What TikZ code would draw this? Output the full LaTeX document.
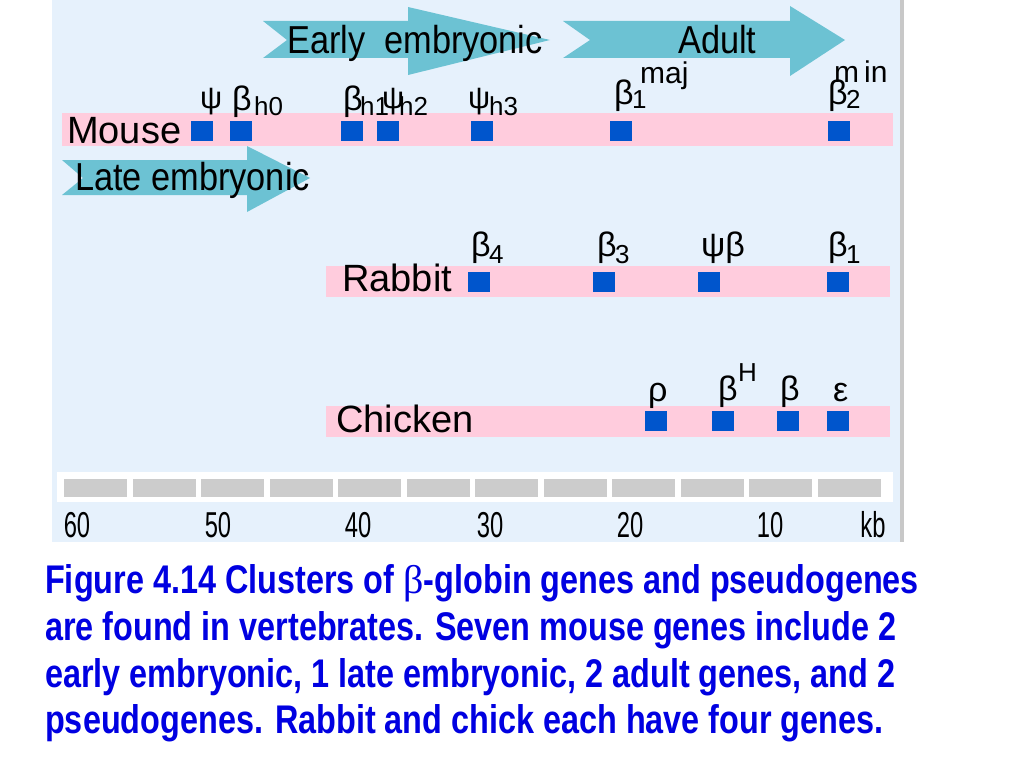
\documentclass[tikz,border=0pt]{standalone}
\usepackage{fontspec}
\setmainfont{Liberation Sans}
\newfontfamily\labf{Liberation Sans}
\newfontfamily\arrf{Liberation Sans}[FakeStretch=0.88]
\newfontfamily\numf{Liberation Sans}[FakeStretch=0.66]
\newfontfamily\capf{Liberation Sans Bold}[FakeStretch=0.81]
\newfontfamily\capbetaf{Liberation Serif}
\definecolor{panelblue}{RGB}{230,241,252}
\definecolor{barpink}{RGB}{255,204,221}
\definecolor{geneblue}{RGB}{0,85,204}
\definecolor{arrowteal}{RGB}{108,194,211}
\definecolor{seggray}{RGB}{204,204,204}
\definecolor{edgegray}{RGB}{200,200,200}
\definecolor{capblue}{RGB}{0,0,225}
\begin{document}
\begin{tikzpicture}[x=1pt,y=-1pt,
  lab/.style={anchor=base west, inner sep=0pt, font=\labf\fontsize{34}{36}\selectfont},
  psilab/.style={anchor=base west, inner sep=0pt, font=\labf\fontsize{31}{33}\selectfont},
  sublab/.style={anchor=base west, inner sep=0pt, font=\labf\fontsize{26}{28}\selectfont},
  suplab/.style={anchor=base west, inner sep=0pt, font=\labf\fontsize{30}{32}\selectfont},
  species/.style={anchor=base west, inner sep=0pt, font=\labf\fontsize{38}{40}\selectfont},
  stagelab/.style={anchor=base west, inner sep=0pt, font=\arrf\fontsize{39}{41}\selectfont},
  scalelab/.style={anchor=base, inner sep=0pt, font=\numf\fontsize{36}{38}\selectfont},
  caplab/.style={anchor=base west, inner sep=0pt, text=capblue, font=\capf\fontsize{40}{46}\selectfont},
  gene/.style={fill=geneblue, minimum width=22pt, minimum height=20pt, inner sep=0pt},
  bar/.style={fill=barpink},
  stagearrow/.style={fill=arrowteal}]
\useasboundingbox (0,0) rectangle (1024,768);
% panel
\fill[panelblue] (52,0) rectangle (900,542);
\fill[edgegray] (900,0) rectangle (904,542);
% stage arrows
\fill[stagearrow] (263,21) -- (408,21) -- (408,7) -- (550,40) -- (408,75) -- (408,58) -- (263,58) -- (287,40) -- cycle;
\fill[stagearrow] (563,21) -- (790,21) -- (790,6) -- (845,40) -- (790,76) -- (790,58) -- (563,58) -- (590,40) -- cycle;
\fill[stagearrow] (62,160) -- (247,160) -- (247,146) -- (310,178) -- (247,212) -- (247,195) -- (62,195) -- (83,178) -- cycle;
\node[stagelab] (early) at (287,53) {Early\ \ embryonic};
\node[stagelab] (adult) at (678,53) {Adult};
\node[stagelab] (late) at (75,190) {Late embryonic};
% bars
\fill[bar] (62,113) rectangle (893,146);
\fill[bar] (326,266) rectangle (890,297);
\fill[bar] (326,406) rectangle (890,437);
% species
\node[species] (mouse) at (67,143) {Mouse};
\node[species] (rabbit) at (342,291) {Rabbit};
\node[species] (chicken) at (336,432) {Chicken};
% mouse genes
\node[gene] (m1) at (202,131) {};
\node[gene] (m2) at (241,131) {};
\node[gene] (m3) at (352,131) {};
\node[gene] (m4) at (388,131) {};
\node[gene] (m5) at (482,131) {};
\node[gene] (m6) at (621,131) {};
\node[gene] (m7) at (839,131) {};
\node[psilab] (l1) at (200,108) {ψ};
\node[lab] (l2) at (232,110) {β};
\node[sublab] (l2s) at (254,115) {h0};
\node[lab] (l3) at (343,110) {β};
\node[sublab] (l3s) at (360,115) {h1};
\node[psilab] (l4) at (382,108) {ψ};
\node[sublab] (l4s) at (399,115) {h2};
\node[psilab] (l5) at (468,108) {ψ};
\node[sublab] (l5s) at (489,115) {h3};
\node[lab] (l6) at (614,104) {β};
\node[sublab] (l6s) at (632,108) {1};
\node[suplab] (l6p) at (640,83) {maj};
\node[lab] (l7) at (828,104) {β};
\node[sublab] (l7s) at (846,108) {2};
\node[suplab] (l7p) at (834,82) {m\,in};
% rabbit genes
\node[gene] (r1) at (479,281.5) {};
\node[gene] (r2) at (604,281.5) {};
\node[gene] (r3) at (709,281.5) {};
\node[gene] (r4) at (838,281.5) {};
\node[lab] (k1) at (471,256) {β};
\node[sublab] (k1s) at (489,263) {4};
\node[lab] (k2) at (597,256) {β};
\node[sublab] (k2s) at (615,263) {3};
\node[lab] (k3) at (701,256) {ψβ};
\node[lab] (k4) at (828,256) {β};
\node[sublab] (k4s) at (846,263) {1};
% chicken genes
\node[gene] (c1) at (656,420.5) {};
\node[gene] (c2) at (723,420.5) {};
\node[gene] (c3) at (788,420.5) {};
\node[gene] (c4) at (838,420.5) {};
\node[lab] (h1) at (648,401) {ρ};
\node[lab] (h2) at (718,400) {β};
\node[sublab] (h2p) at (738,381) {H};
\node[lab] (h3) at (780,400) {β};
\node[lab] (h4) at (833,401) {ε};
% scale bar
\fill[white] (57,472) rectangle (893,502);
\foreach \i in {0,...,11} \fill[seggray] ({64+68.5*\i},479) rectangle ++(63,18);
\node[scalelab] (s60) at (77,537) {60};
\node[scalelab] (s50) at (218,537) {50};
\node[scalelab] (s40) at (358,537) {40};
\node[scalelab] (s30) at (490,537) {30};
\node[scalelab] (s20) at (630,537) {20};
\node[scalelab] (s10) at (770,537) {10};
\node[scalelab] (skb) at (873,537) {kb};
% caption
\node[caplab] (cap1) at (45,593) {Figure 4.14 Clusters of {\capbetaf β}-globin genes and pseudogenes};
\node[caplab] (cap2) at (45,640) {are found in vertebrates. Seven mouse genes include 2};
\node[caplab] (cap3) at (45,687) {early embryonic, 1 late embryonic, 2 adult genes, and 2};
\node[caplab] (cap4) at (45,733) {pseudogenes. Rabbit and chick each have four genes.};
\end{tikzpicture}
\end{document}
